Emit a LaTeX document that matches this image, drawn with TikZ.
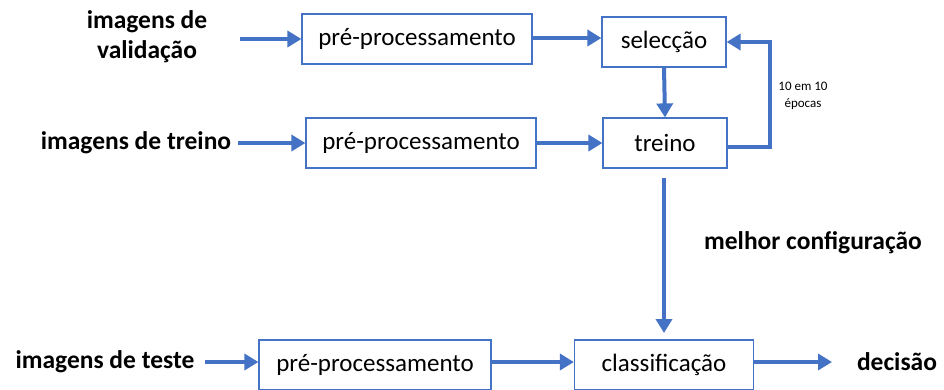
\documentclass[tikz,border=0pt]{standalone}
\usepackage{fontspec}
\setmainfont{Carlito}
\usetikzlibrary{arrows.meta}
\definecolor{flowblue}{RGB}{68,114,196}
\tikzset{
  procbox/.style={draw=flowblue, line width=1.2pt, minimum height=50pt, inner sep=0pt, font=\fontsize{25}{29}\selectfont},
  inlabel/.style={font=\bfseries\fontsize{25.5}{30}\selectfont, align=center},
  flow/.style={draw=flowblue, line width=4pt, -{Triangle[length=14pt,width=16pt]}}
}
\begin{document}
\begin{tikzpicture}[x=1pt,y=-1pt]
        % Frame
        \clip (0,0) rectangle (944,389);
        \fill[white] (0,0) rectangle (944,389);

        % Boxes
        \node[procbox, minimum width=230pt] (preval) at (417,39) {pré-processamento};
        \node[procbox, minimum width=124pt] (sel) at (664,42) {selecção};
        \node[procbox, minimum width=230pt] (pretrain) at (421,143) {pré-processamento};
        \node[procbox, minimum width=124pt] (train) at (665,143) {treino};
        \node[procbox, minimum width=232pt] (pretest) at (375,365) {pré-processamento};
        \node[procbox, minimum width=179pt] (classif) at (664,365) {classificação};

        % Labels
        \node[inlabel] (val) at (147,37) {imagens de\\validação};
        \node[inlabel] (trainimg) at (136,143) {imagens de treino};
        \node[inlabel] (testimg) at (105,362) {imagens de teste};
        \node[inlabel] (dec) at (897,362) {decisão};
        \node[inlabel] (best) at (813,243) {melhor configuração};
        \node[font=\fontsize{13}{17}\selectfont, align=center] (ep) at (803,96) {10 em 10\\épocas};

        % Free ends
        \coordinate (v0) at (240,39);
        \coordinate (t0) at (238,143);
        \coordinate (s0) at (205,362);
        \coordinate (d1) at (832,362);
        \coordinate (c0) at (664,178);
        \coordinate (c1) at (664,333);
        \coordinate (loop1) at (770,147);
        \coordinate (loop2) at (770,42);

        % Arrows
        \draw[flow] (v0) -- (preval.west);
        \draw[flow] (t0) -- (pretrain.west);
        \draw[flow] (preval.east |- 0,38) -- (sel.west |- 0,38);
        \draw[flow] (pretrain.east) -- (train.west);
        \draw[flow] (sel.south) -- (train.north);
        \draw[flow] (train.east |- loop1) -- (loop1) -- (loop2) -- (sel.east);
        \draw[flow] (c0) -- (c1);
        \draw[flow] (s0) -- (pretest.west |- s0);
        \draw[flow] (pretest.east |- s0) -- (classif.west |- s0);
        \draw[flow] (classif.east |- s0) -- (d1);
    \end{tikzpicture}
\end{document}
